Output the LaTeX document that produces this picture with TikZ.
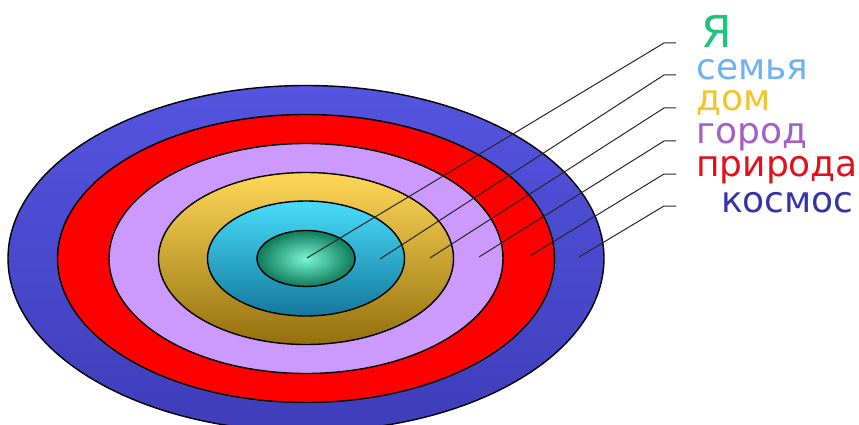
\documentclass[tikz,border=0pt]{standalone}
\usepackage{fontspec}
\setmainfont{DejaVu Sans}
\definecolor{blueT}{HTML}{5454E0}
\definecolor{blueB}{HTML}{3E3EBA}
\definecolor{ringred}{HTML}{FF0000}
\definecolor{ringviolet}{HTML}{CC99FF}
\definecolor{yellT}{HTML}{FFD858}
\definecolor{yellB}{HTML}{94700E}
\definecolor{cyanT}{HTML}{48DCFA}
\definecolor{cyanB}{HTML}{14789C}
\definecolor{greenIn}{HTML}{78F6D2}
\definecolor{greenOut}{HTML}{0E7A58}
\definecolor{tYa}{HTML}{20C47E}
\definecolor{tSem}{HTML}{6EB2F2}
\definecolor{tDom}{HTML}{F2C42A}
\definecolor{tGor}{HTML}{A45EC4}
\definecolor{tPri}{HTML}{E0101C}
\definecolor{tKos}{HTML}{3434A8}
\tikzset{
  ringline/.style={draw=black, line width=1.4pt},
  leader/.style={draw=black!85, line width=1pt},
  lbl/.style={anchor=base west, inner sep=0pt, text height=20pt, text depth=0pt,
              font=\fontsize{36}{36}\selectfont}
}
\begin{document}
\begin{tikzpicture}[x=1pt,y=-1pt]
\useasboundingbox (0,0) rectangle (859,425);
\clip (0,0) rectangle (859,425);
\coordinate (c) at (306,258.5);
% rings
\shade[top color=blueT, bottom color=blueB] (c) ellipse [x radius=298, y radius=173];
\draw[ringline] (c) ellipse [x radius=298, y radius=173];
\fill[ringred] (c) ellipse [x radius=248.5, y radius=144];
\draw[ringline] (c) ellipse [x radius=248.5, y radius=144];
\fill[ringviolet] (c) ellipse [x radius=197, y radius=115];
\draw[ringline] (c) ellipse [x radius=197, y radius=115];
\shade[top color=yellT, bottom color=yellB] (c) ellipse [x radius=147.5, y radius=86];
\draw[ringline] (c) ellipse [x radius=147.5, y radius=86];
\shade[top color=cyanT, bottom color=cyanB] (c) ellipse [x radius=98.5, y radius=57.5];
\draw[ringline] (c) ellipse [x radius=98.5, y radius=57.5];
\shade[inner color=greenIn, outer color=greenOut] (c) ellipse [x radius=49, y radius=28];
\draw[ringline] (c) ellipse [x radius=49, y radius=28];
% leader start points
\coordinate (s1) at (307,258);
\coordinate (s2) at (380,259);
\coordinate (s3) at (430,258);
\coordinate (s4) at (479,257);
\coordinate (s5) at (530,256);
\coordinate (s6) at (579,257);
% bends and ends
\coordinate (b1) at (664,43);  \coordinate (e1) at (676,43);
\coordinate (b2) at (664,75);  \coordinate (e2) at (676,75);
\coordinate (b3) at (664,108); \coordinate (e3) at (676,108);
\coordinate (b4) at (664,141); \coordinate (e4) at (676,141);
\coordinate (b5) at (664,174); \coordinate (e5) at (676,174);
\coordinate (b6) at (664,206); \coordinate (e6) at (676,206);
\foreach \i in {1,...,6} {\draw[leader] (s\i) -- (b\i) -- (e\i);}
% labels
\node[lbl, text=tYa, text height=32pt, font=\fontsize{44}{44}\selectfont] (ya) at (701,48) {Я};
\node[lbl, text=tSem] (sem) at (696,80) {семья};
\node[lbl, text=tDom] (dom) at (696,111) {дом};
\node[lbl, text=tGor] (gor) at (696,143) {город};
\node[lbl, text=tPri] (pri) at (696,176) {природа};
\node[lbl, text=tKos] (kos) at (721,212) {космос};
\end{tikzpicture}
\end{document}
